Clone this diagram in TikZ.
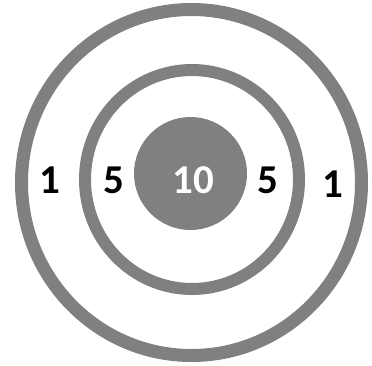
\documentclass[tikz,border=0pt]{standalone}
\usepackage{fontspec}
\setmainfont{Carlito}
\definecolor{ringgray}{RGB}{128,128,128}
\tikzset{
  ring/.style={draw=ringgray},
  score/.style={font=\fontsize{41}{41}\selectfont\bfseries, inner sep=0pt, text=black}
}
\begin{document}
\begin{tikzpicture}[x=1pt,y=-1pt]
\useasboundingbox (0,0) rectangle (372,365);
\draw[ring, line width=13pt] (191.5,182.5) ellipse [x radius=170, y radius=173];
\draw[ring, line width=12pt] (192,179.5) ellipse [x radius=107, y radius=109.5];
\fill[ringgray] (190.5,173.5) circle [radius=56.5];
\node[score] (l1) at (50,180) {1};
\node[score] (l5) at (114,180) {5};
\node[score, text=white] (c10) at (193,180) {10};
\node[score] (r5) at (268,180) {5};
\node[score] (r1) at (333,184) {1};
\end{tikzpicture}
\end{document}
